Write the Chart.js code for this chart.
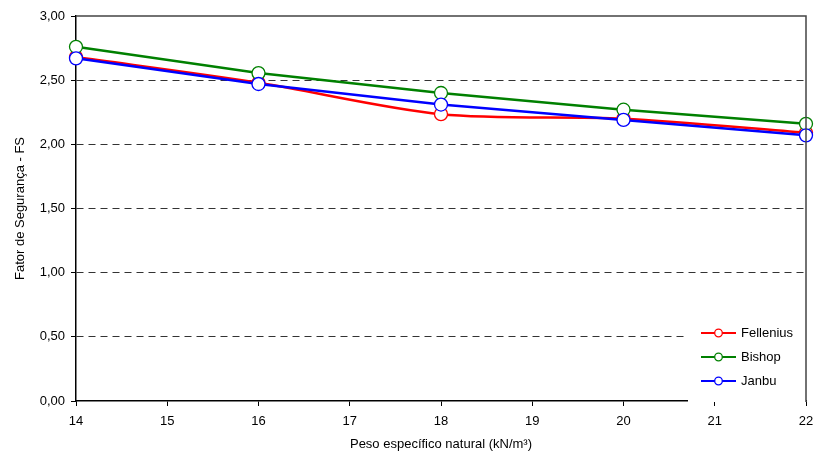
<!DOCTYPE html>
<html>
<head>
<meta charset="utf-8">
<script src="https://cdn.jsdelivr.net/npm/chart.js@4/dist/chart.umd.min.js"></script>
<style>
  html, body { margin: 0; padding: 0; background: #fff; }
  #wrap { width: 816px; height: 459px; }
</style>
</head>
<body>
<div id="wrap"><canvas id="fsChart" width="816" height="459"></canvas></div>
<script>
// peso especifico natural (kN/m3)
const pesos = [14, 16, 18, 20, 22];
const fellenius = [2.68, 2.48, 2.235, 2.20, 2.09];
const bishop = [2.76, 2.555, 2.40, 2.27, 2.16];
const janbu = [2.67, 2.47, 2.31, 2.19, 2.07];
const seriesNames = ['Fellenius', 'Bishop', 'Janbu'];
const seriesColors = ['#ff0000', '#008000', '#0000ff'];

function pts(vals) {
    return pesos.map(function (x, i) { return { x: x, y: vals[i] }; });
}

function makeSet(i, vals, order, tension) {
    return {
        label: seriesNames[i],
        data: pts(vals),
        borderColor: seriesColors[i],
        backgroundColor: '#ffffff',
        borderWidth: 2.5,
        pointRadius: 6.5,
        pointBorderWidth: 1.3,
        pointBackgroundColor: '#ffffff',
        pointBorderColor: seriesColors[i],
        tension: tension,
        clip: false,
        order: order
    };
}

// legend inside plot area + top/right frame
const boxLegend = {
    id: 'boxLegend',
    afterDraw: function (chart) {
        const ctx = chart.ctx;
        const a = chart.chartArea;
        ctx.save();
        ctx.fillStyle = '#ffffff';
        ctx.fillRect(688, 314, a.right - 688, 88);
        ctx.font = '13px "Liberation Sans", Arial, sans-serif';
        ctx.textBaseline = 'middle';
        chart.data.datasets.forEach(function (ds, i) {
            const y = 333 + i * 24;
            ctx.strokeStyle = ds.borderColor;
            ctx.lineWidth = 2;
            ctx.beginPath();
            ctx.moveTo(701, y);
            ctx.lineTo(736, y);
            ctx.stroke();
            ctx.fillStyle = '#ffffff';
            ctx.lineWidth = 1.3;
            ctx.beginPath();
            ctx.arc(718.5, y, 3.8, 0, Math.PI * 2);
            ctx.fill();
            ctx.stroke();
            ctx.fillStyle = '#000000';
            ctx.fillText(ds.label, 741, y + 0.5);
        });
        ctx.strokeStyle = '#444444';
        ctx.lineWidth = 1.5;
        ctx.beginPath();
        ctx.moveTo(a.left, a.top);
        ctx.lineTo(a.right, a.top);
        ctx.lineTo(a.right, a.bottom + 1);
        ctx.stroke();
        ctx.restore();
    }
};

const tickFont = { family: '"Liberation Sans", Arial, sans-serif', size: 13 };

new Chart(document.getElementById('fsChart').getContext('2d'), {
    type: 'line',
    data: {
        datasets: [
            makeSet(0, fellenius, 2, 0.3),
            makeSet(1, bishop, 1, 0),
            makeSet(2, janbu, 0, 0)
        ]
    },
    options: {
        responsive: false,
        animation: false,
        layout: { padding: { left: 0, right: 10, top: 16, bottom: 0 } },
        plugins: {
            legend: { display: false },
            tooltip: { enabled: false }
        },
        scales: {
            x: {
                type: 'linear',
                min: 14,
                max: 22,
                afterFit: function (s) {
                    s.height = 58;
                    s.paddingLeft = 0;
                    s.paddingRight = 0;
                },
                ticks: { stepSize: 1, color: '#000', font: tickFont, padding: 8, maxRotation: 0 },
                grid: { drawOnChartArea: false, drawTicks: true, tickLength: 5, tickColor: '#000', tickWidth: 1 },
                border: { display: true, color: '#000', width: 1.5 },
                title: {
                    display: true,
                    text: 'Peso específico natural (kN/m³)',
                    color: '#000',
                    font: tickFont,
                    padding: { top: 0, bottom: 7 }
                }
            },
            y: {
                min: 0,
                max: 3,
                afterFit: function (s) {
                    s.width = 76;
                    s.paddingTop = 0;
                    s.paddingBottom = 0;
                },
                ticks: {
                    stepSize: 0.5,
                    color: '#000',
                    font: tickFont,
                    padding: 6,
                    callback: function (v) { return v.toFixed(2).replace('.', ','); }
                },
                grid: {
                    color: function (c) {
                        const v = c.tick ? c.tick.value : 0;
                        return (v <= 0 || v >= 3) ? 'rgba(0,0,0,0)' : '#333333';
                    },
                    lineWidth: 1,
                    drawTicks: true,
                    tickLength: 5,
                    tickColor: '#000',
                    tickWidth: 1,
                    tickBorderDash: []
                },
                border: { display: true, color: '#000', width: 1.5, dash: [7, 5] },
                title: {
                    display: true,
                    text: 'Fator de Segurança - FS',
                    color: '#000',
                    font: tickFont,
                    padding: { top: 13, bottom: 4 }
                }
            }
        }
    },
    plugins: [boxLegend]
});
</script>
</body>
</html>
